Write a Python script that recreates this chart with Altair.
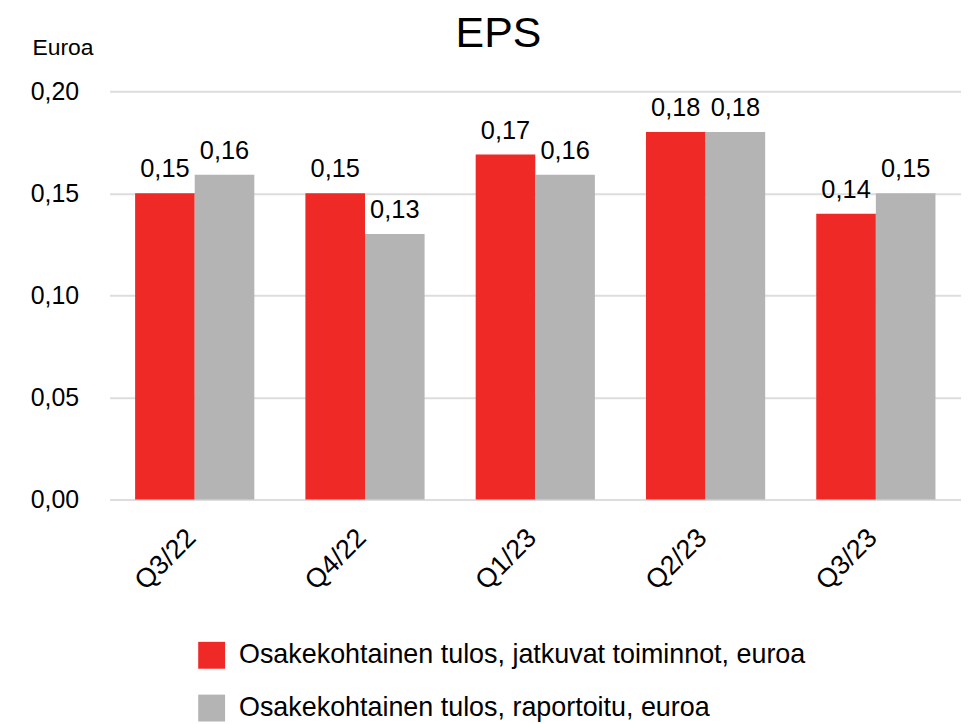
import altair as alt
import pandas as pd

quarters = ["Q3/22", "Q4/22", "Q1/23", "Q2/23", "Q3/23"]
continuing = [0.15, 0.15, 0.169, 0.18, 0.14]
reported = [0.159, 0.13, 0.159, 0.18, 0.15]
series = [
    "Osakekohtainen tulos, jatkuvat toiminnot, euroa",
    "Osakekohtainen tulos, raportoitu, euroa",
]
colors = ["#EE2926", "#B4B4B4"]
y_ticks = [0.0, 0.05, 0.10, 0.15, 0.20]

rows = []
for q, a, b in zip(quarters, continuing, reported):
    rows.append({"quarter": q, "series": series[0], "value": a})
    rows.append({"quarter": q, "series": series[1], "value": b})
df = pd.DataFrame(rows)

FONT = "Liberation Sans"
fmt = "replace(format(datum.value, '.2f'), '.', ',')"

base = alt.Chart(df).encode(
    x=alt.X(
        "quarter:N",
        sort=quarters,
        scale=alt.Scale(paddingInner=0.3, paddingOuter=0.15),
        axis=alt.Axis(
            title=None,
            labelAngle=-45,
            labelAlign="right",
            labelBaseline="middle",
            labelPadding=34,
            labelOffset=-3,
            labelFontSize=27,
            labelFont=FONT,
            labelColor="#000000",
            domain=False,
            ticks=False,
        ),
    ),
    xOffset=alt.XOffset("series:N", sort=series, scale=alt.Scale(paddingInner=0, paddingOuter=0)),
)

bars = base.mark_bar().encode(
    y=alt.Y(
        "value:Q",
        scale=alt.Scale(domain=[0, 0.2], nice=False),
        axis=alt.Axis(
            values=y_ticks,
            labelExpr=fmt,
            labelFontSize=25,
            labelFont=FONT,
            labelColor="#000000",
            labelPadding=31,
            domain=False,
            ticks=False,
            grid=True,
            gridColor="#DDDDDD",
            gridWidth=2,
            title="Euroa",
            titleAngle=0,
            titleAlign="left",
            titleBaseline="alphabetic",
            titleX=-78,
            titleY=-37,
            titleFontSize=23,
            titleFont=FONT,
            titleFontWeight="normal",
            titleColor="#000000",
        ),
    ),
    color=alt.Color(
        "series:N",
        sort=series,
        scale=alt.Scale(domain=series, range=colors),
        legend=alt.Legend(
            title=None,
            orient="none",
            legendX=89,
            legendY=553,
            symbolType="square",
            symbolSize=729,
            symbolStrokeWidth=0,
            labelFontSize=27,
            labelFont=FONT,
            labelColor="#000000",
            labelOffset=14,
            rowPadding=25,
            labelLimit=800,
        ),
    ),
)

labels = base.mark_text(
    dy=-16, baseline="alphabetic", fontSize=25.5, font=FONT, color="#000000"
).encode(
    y=alt.Y("value:Q"),
    text=alt.Text("label:N"),
).transform_calculate(label=fmt)

chart = (
    alt.layer(bars, labels)
    .properties(
        width=855,
        height=410,
        autosize=alt.AutoSizeParams(type="none"),
        padding={"left": 102, "top": 82, "right": 0, "bottom": 224},
        title=alt.TitleParams(
            "EPS",
            fontSize=43,
            font=FONT,
            fontWeight="normal",
            color="#000000",
            anchor="middle",
            dx=-37,
            dy=20,
            offset=0,
        ),
    )
    .configure_view(stroke=None)
)

chart.save("out.html", embed_options={"renderer": "svg", "actions": False})
